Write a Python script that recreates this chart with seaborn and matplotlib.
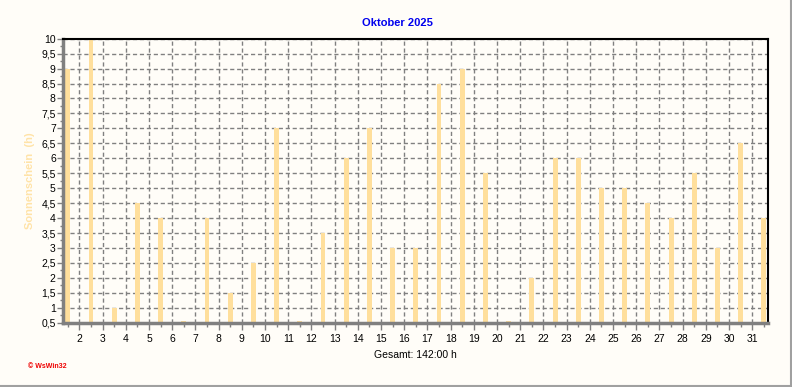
import matplotlib
matplotlib.use("Agg")
import matplotlib.pyplot as plt
from matplotlib.ticker import MultipleLocator
from matplotlib.lines import Line2D
import seaborn as sns
import pandas as pd

days = list(range(1, 32))
sunshine = [9, 10, 1, 4.5, 4, 0.55, 4, 1.5, 2.5, 7, 0.55, 3.5, 6, 7, 3, 3,
            8.5, 9, 5.5, 0.55, 2, 6, 6, 5, 5, 4.5, 4, 5.5, 3, 6.5, 4]
tick_days = list(range(2, 32))
yticks = [0.5 * i for i in range(1, 21)]
title = "Oktober 2025"
ylabel = "Sonnenschein  (h)"
total_text = "Gesamt: 142:00 h"

sns.set_theme(style="white")
plt.rcParams['font.family'] = ['Liberation Sans', 'DejaVu Sans']

bg = "#FFFDF8"
bar_color = "#FFDF9C"

fig = plt.figure(figsize=(7.92, 3.87), dpi=100, facecolor=bg)
ax = fig.add_axes([62.7 / 792, 1 - 322.7 / 387, (768.3 - 62.7) / 792, (322.7 - 38.7) / 387])
ax.set_facecolor(bg)

df = pd.DataFrame({"pos": [d + 0.5 for d in days], "val": sunshine})
sns.barplot(data=df, x="pos", y="val", native_scale=True, width=0.21,
            color=bar_color, saturation=1, edgecolor="none", linewidth=0, ax=ax, zorder=2)
for p in ax.patches:
    p.set_antialiased(False)

ax.set_xlim(1.28, 31.69)
ax.set_ylim(0.5, 10)

ax.set_xticks(tick_days)
ax.set_xticklabels([str(d) for d in tick_days], fontsize=7.5, color="black")
ax.xaxis.set_minor_locator(MultipleLocator(0.5))
ax.set_yticks(yticks)
ax.set_yticklabels([("%g" % v).replace(".", ",") for v in yticks], fontsize=7.5, color="black")
ax.yaxis.set_minor_locator(MultipleLocator(0.25))

ax.grid(True, which="major", color="#808080", linestyle=(0, (3, 2)), linewidth=1, zorder=1)
ax.set_axisbelow(True)

ax.tick_params(axis="x", which="major", direction="out", length=5, width=1, color="#808080", pad=3)
ax.tick_params(axis="x", which="minor", direction="out", length=3, width=1, color="#808080")
ax.tick_params(axis="y", which="major", direction="out", length=4, width=1, color="#808080", pad=1)
ax.tick_params(axis="y", which="minor", direction="out", length=2, width=1, color="#808080")
ax.tick_params(bottom=True, left=True, which="both")

for side in ["top", "right"]:
    ax.spines[side].set_color("black")
    ax.spines[side].set_linewidth(1.5)
for side in ["bottom", "left"]:
    ax.spines[side].set_color("#808080")
    ax.spines[side].set_linewidth(2.5)

ax.set_xlabel(total_text, fontsize=7.5, color="black", labelpad=1)
ax.xaxis.set_label_coords((415 - 62.7) / (768.3 - 62.7), -0.095)
ax.set_ylabel(ylabel, fontsize=8, color="#FFE3A8", fontweight="bold", labelpad=10)
ax.yaxis.set_label_coords(-(62.7 - 35) / (768.3 - 62.7), 0.5)

fig.text(397 / 792, 1 - 23 / 387, title, ha="center", va="center", fontsize=8,
         fontweight="bold", color="#0000EE")
fig.text(28 / 792, 1 - 367 / 387, "\u00a9 WsWin32", ha="left", va="center", fontsize=5,
         fontweight="bold", color="#EE0000")

fig.add_artist(Line2D([790.5 / 792, 790.5 / 792], [0, 1], transform=fig.transFigure, color="#A0A0A0", lw=1.5))
fig.add_artist(Line2D([0, 1], [1.2 / 387, 1.2 / 387], transform=fig.transFigure, color="#A0A0A0", lw=1.5))

fig.savefig("out.png", dpi=100, facecolor=bg)
